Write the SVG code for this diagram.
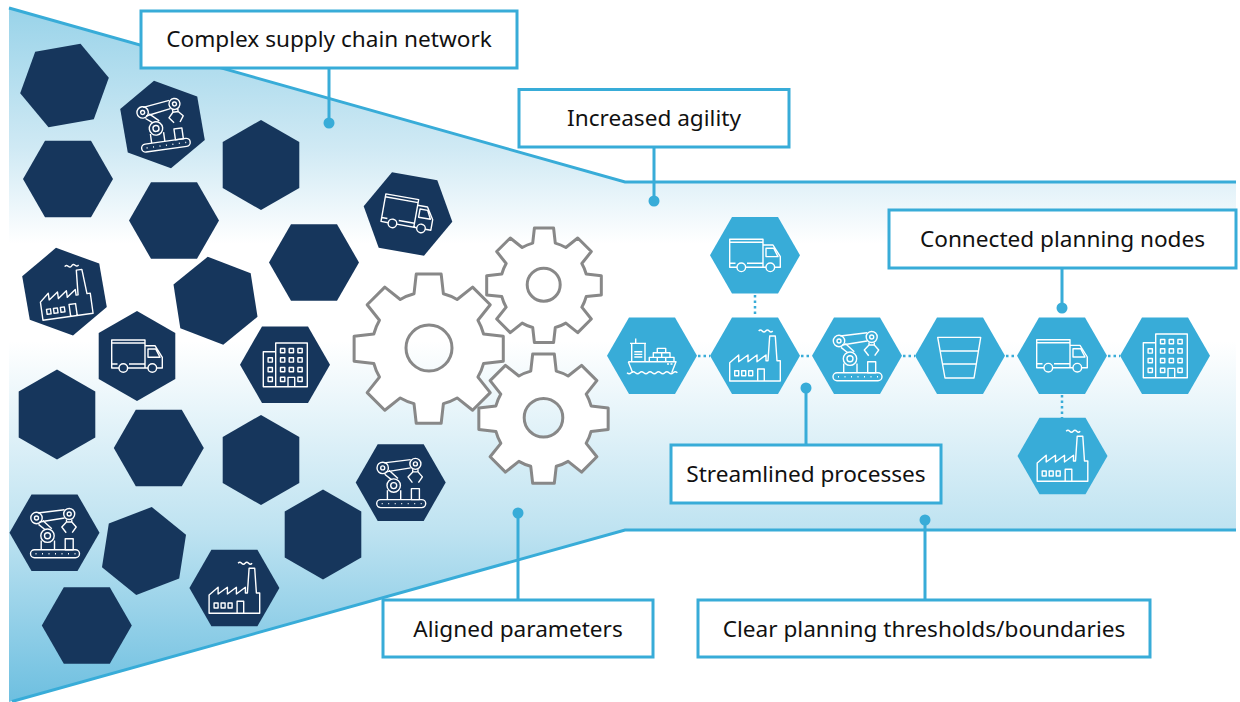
<svg xmlns="http://www.w3.org/2000/svg" width="1240" height="702" viewBox="0 0 1240 702">
<style>
.dark{fill:#16365c}
.light{fill:#38acd8}
.ico{fill:none;stroke:#fff;stroke-width:1.4;stroke-linejoin:round}
.gear{fill:#fff;stroke:#888;stroke-width:3;stroke-linejoin:round;vector-effect:non-scaling-stroke}
.hole{fill:url(#bg);stroke:#888;stroke-width:3}
.edge{fill:none;stroke:#38acd8;stroke-width:3}
.dots{fill:none;stroke:#38acd8;stroke-width:2.5;stroke-dasharray:2.5 3}
.dot{fill:#38acd8}
.box{fill:#fff;stroke:#38acd8;stroke-width:3}
.lab{font-family:"Noto Sans","Open Sans",sans-serif;font-size:22.6px;fill:#111;text-anchor:middle}
</style>
<defs>
<linearGradient id="bg" gradientUnits="userSpaceOnUse" x1="0" y1="8" x2="0" y2="702">
<stop offset="0" stop-color="#99d3e9"/>
<stop offset="0.2" stop-color="#cfe9f4"/>
<stop offset="0.34" stop-color="#ffffff"/>
<stop offset="0.48" stop-color="#ffffff"/>
<stop offset="0.75" stop-color="#bfe3f1"/>
<stop offset="1" stop-color="#6dbfe0"/>
</linearGradient>
<polygon id="hex" points="-45,0 -23,-38.3 23,-38.3 45,0 23,38.3 -23,38.3"/>
<path id="gearshape" class="gear" d="M-14.49-54.09L-12.29-73.48H12.29L14.49-54.09A56 56 0 0 1 28-48.5L43.26-60.65L60.65-43.26L48.5-28A56 56 0 0 1 54.09-14.49L73.48-12.29V12.29L54.09 14.49A56 56 0 0 1 48.5 28L60.65 43.26L43.26 60.65L28 48.5A56 56 0 0 1 14.49 54.09L12.29 73.48H-12.29L-14.49 54.09A56 56 0 0 1-28 48.5L-43.26 60.65L-60.65 43.26L-48.5 28A56 56 0 0 1-54.09 14.49L-73.48 12.29V-12.29L-54.09-14.49A56 56 0 0 1-48.5-28L-60.65-43.26L-43.26-60.65L-28-48.5A56 56 0 0 1-14.49-54.09Z"/>
<g id="truck" class="ico">
<path d="M-18 12H-25.3V-16H8V12M-25.3-13H8M-25.3 8H-19.5M-8 8H8M-9.4 12H11M19.6 12H25.3V1.3L18-10.3H8M11-7H18.7L23 1.3H11Z"/>
<circle cx="-13.7" cy="12" r="4.3"/><circle cx="15.3" cy="12" r="4.3"/>
</g>
<g id="factory" class="ico">
<path d="M-25.3 25.3V7L-16.3-.7V6L-7-.7V6L2-.7V6L11-.7V5H13L14.7-19.7H20.3L22 5H25.3V25.3ZM2.7 25.3V13.3H9.3V25.3M3.7-24.7q1.7-2 3.5 0t3.500 0t3.500 0t3.500 0"/>
<rect x="-20.3" y="15" width="4" height="5"/><rect x="-13.3" y="15" width="4" height="5"/><rect x="-6.3" y="15" width="4" height="5"/>
</g>
<g id="robot" class="ico">
<rect x="-24" y="17" width="49" height="8" rx="4"/>
<path d="M-19 21H21" stroke-dasharray="1 5.5"/>
<circle cx="-7" cy="3" r="6.7"/><circle cx="-7" cy="3" r="3"/>
<circle cx="-18" cy="-14.7" r="5.7"/><circle cx="-18" cy="-14.7" r="2"/>
<circle cx="14.7" cy="-18.7" r="5.500"/><circle cx="14.7" cy="-18.7" r="2"/>
<path d="M-13.3 7.7V17M0 7.7V17M-16.7-19.7L10-23M-15-10.7L10-14.7M-16-8.3L-9.3-3M-11.7-12.3L-2.7-4M12-13.3V-10.7H17.3V-13.3M12-10.7L7.3-5.7L11.7 0M17.3-10.7L21.7-5.7L17.7 0"/>
<rect x="10.7" y="6" width="8" height="11"/>
</g>
<g id="building" class="ico">
<path d="M-9.3-13H-21.7V22H22.3V-21.7H-9.3V22M3 22V12.7H9.7V22"/>
<rect x="-4.5" y="-16.2" width="4.3" height="4.3"/><rect x="4.2" y="-16.2" width="4.3" height="4.3"/><rect x="12.9" y="-16.2" width="4.3" height="4.3"/>
<rect x="-4.5" y="-6.9" width="4.3" height="4.3"/><rect x="4.2" y="-6.9" width="4.3" height="4.3"/><rect x="12.9" y="-6.9" width="4.3" height="4.3"/>
<rect x="-4.5" y="2.8" width="4.3" height="4.3"/><rect x="4.2" y="2.8" width="4.3" height="4.3"/><rect x="12.9" y="2.8" width="4.3" height="4.3"/>
<rect x="-4.5" y="12.5" width="4.3" height="4.3"/><rect x="12.9" y="12.5" width="4.3" height="4.3"/>
<rect x="-16.9" y="-6.9" width="4.3" height="4.3"/><rect x="-16.9" y="2.8" width="4.3" height="4.3"/><rect x="-16.9" y="12.5" width="4.3" height="4.3"/>
</g>
<g id="ship" class="ico">
<path d="M-23.7 6H24L19.7 17M-19.3 17L-23.7 6M-20.3 6V-12.3H-7V6M-22-12.3H-6M-16.3-17.3V-12.3M-17.7-4H-9.7M-17.7-1.3H-9.7M-17.7 1.3H-9.7M-2.7 6V1.7H22V6M5.3 1.7V6M13.7 1.7V6M1.3 1.7V-3H18V1.7M9.7-3V1.7M5.3-3V-7.3H13.7V-3M15 8.3H17M18.5 8.3H20.500"/>
<path d="M-25 17q2.200 2 4.200 0t4.200 0t4.200 0t4.200 0t4.200 0t4.200 0t4.200 0t4.200 0t4.200 0t4.200 0t4.200 0t4.200 0"/>
</g>
<g id="funnel" class="ico">
<path d="M-22.3-18.3H20.7L14 22.3H-15ZM-20-4.7H18.7M-17.500 8.300H16.500"/>
</g>
</defs>

<polygon id="background" points="9,8 625,182 1236,182 1236,530 625,530 9,702" fill="url(#bg)"/>
<g id="connectors">
<path class="edge" d="M9 8L625 182H1236M12 701.500L625 530H1236"/>
<path class="edge" d="M329 68V123M654 147V201M1062 268V308M806 445V388M518 600V513M925 600V520"/>
<circle class="dot" cx="329" cy="123" r="5.500"/><circle class="dot" cx="654" cy="201" r="5.500"/><circle class="dot" cx="1062" cy="308" r="5.500"/><circle class="dot" cx="806" cy="388" r="5.500"/><circle class="dot" cx="518" cy="513" r="5.500"/><circle class="dot" cx="925" cy="520" r="5.500"/>
<path class="dots" d="M698 356H710M801 356H812M903 356H915M1006 356H1017M1108 356H1120M755 295V317M1062 395V418"/>
</g>

<g id="chaos">
<g id="c1" transform="translate(64.5,85.5) rotate(-10)"><use href="#hex" class="dark"/></g>
<g id="c2" transform="translate(162.5,124.5) rotate(20)"><use href="#hex" class="dark"/></g>
<use href="#robot" transform="translate(162.5,124.5) rotate(-8)"/>
<g id="c3" transform="translate(68,179)"><use href="#hex" class="dark"/></g>
<g id="c4" transform="translate(261,165) rotate(90)"><use href="#hex" class="dark"/></g>
<g id="c5" transform="translate(174,220.5)"><use href="#hex" class="dark"/></g>
<g id="c6" transform="translate(314,262.5)"><use href="#hex" class="dark"/></g>
<g id="c7" transform="translate(408,214) rotate(10)"><use href="#hex" class="dark"/><use href="#truck"/></g>
<g id="c8" transform="translate(64.5,291.7) rotate(20)"><use href="#hex" class="dark"/></g>
<use href="#factory" transform="translate(64.5,291.7) rotate(-8)"/>
<g id="c9" transform="translate(215.5,300.7) rotate(21)"><use href="#hex" class="dark"/></g>
<g id="c10" transform="translate(137,356) rotate(90)"><use href="#hex" class="dark"/></g>
<use href="#truck" transform="translate(137,356)"/>
<g id="c11" transform="translate(285,364.7)"><use href="#hex" class="dark"/><use href="#building"/></g>
<g id="c12" transform="translate(57,414.5) rotate(90)"><use href="#hex" class="dark"/></g>
<g id="c13" transform="translate(158.8,448)"><use href="#hex" class="dark"/></g>
<g id="c14" transform="translate(261,460) rotate(90)"><use href="#hex" class="dark"/></g>
<g id="c15" transform="translate(54.5,532.7)"><use href="#hex" class="dark"/><use href="#robot"/></g>
<g id="c16" transform="translate(144,551) rotate(-21)"><use href="#hex" class="dark"/></g>
<g id="c17" transform="translate(323,534.5) rotate(90)"><use href="#hex" class="dark"/></g>
<g id="c18" transform="translate(234.4,588)"><use href="#hex" class="dark"/><use href="#factory"/></g>
<g id="c19" transform="translate(86.8,625.5)"><use href="#hex" class="dark"/></g>
<g id="c20" transform="translate(400.7,482.6)"><use href="#hex" class="dark"/><use href="#robot"/></g>
</g>

<g id="gears">
<g id="gear-large"><use href="#gearshape" transform="translate(428.7,348.7) scale(1.015)"/><circle class="hole" cx="429" cy="348" r="23"/></g>
<g id="gear-top"><use href="#gearshape" transform="translate(544,285.3) scale(.78)"/><circle class="hole" cx="543.7" cy="284.7" r="16.5"/></g>
<g id="gear-bottom"><use href="#gearshape" transform="translate(543.5,418.7) scale(.88)"/><circle class="hole" cx="543.5" cy="417.7" r="19.3"/></g>
</g>

<g id="n-ship" transform="translate(652,355.7)"><use href="#hex" class="light"/><use href="#ship"/></g>
<g id="n-factory" transform="translate(755,355.7)"><use href="#hex" class="light"/><use href="#factory"/></g>
<g id="n-robot" transform="translate(857,355.7)"><use href="#hex" class="light"/><use href="#robot"/></g>
<g id="n-funnel" transform="translate(960,355.7)"><use href="#hex" class="light"/><use href="#funnel"/></g>
<g id="n-truck" transform="translate(1062,355.7)"><use href="#hex" class="light"/><use href="#truck"/></g>
<g id="n-building" transform="translate(1165,355.7)"><use href="#hex" class="light"/><use href="#building"/></g>
<g id="n-truck-top" transform="translate(755,255.3)"><use href="#hex" class="light"/><use href="#truck"/></g>
<g id="n-factory-bottom" transform="translate(1062.5,456)"><use href="#hex" class="light"/><use href="#factory"/></g>

<g id="l-complex"><rect class="box" x="141" y="11" width="376" height="57"/><text class="lab" x="329" y="47">Complex supply chain network</text></g>
<g id="l-agility"><rect class="box" x="519" y="89.500" width="270" height="57.500"/><text class="lab" x="654" y="126">Increased agility</text></g>
<g id="l-connected"><rect class="box" x="889" y="210" width="347" height="58"/><text class="lab" x="1062.500" y="247">Connected planning nodes</text></g>
<g id="l-streamlined"><rect class="box" x="671" y="445" width="270" height="58"/><text class="lab" x="806" y="482">Streamlined processes</text></g>
<g id="l-aligned"><rect class="box" x="383" y="600" width="270" height="57"/><text class="lab" x="518" y="637">Aligned parameters</text></g>
<g id="l-clear"><rect class="box" x="698" y="600" width="452" height="57"/><text class="lab" x="924" y="637">Clear planning thresholds/boundaries</text></g>
</svg>
